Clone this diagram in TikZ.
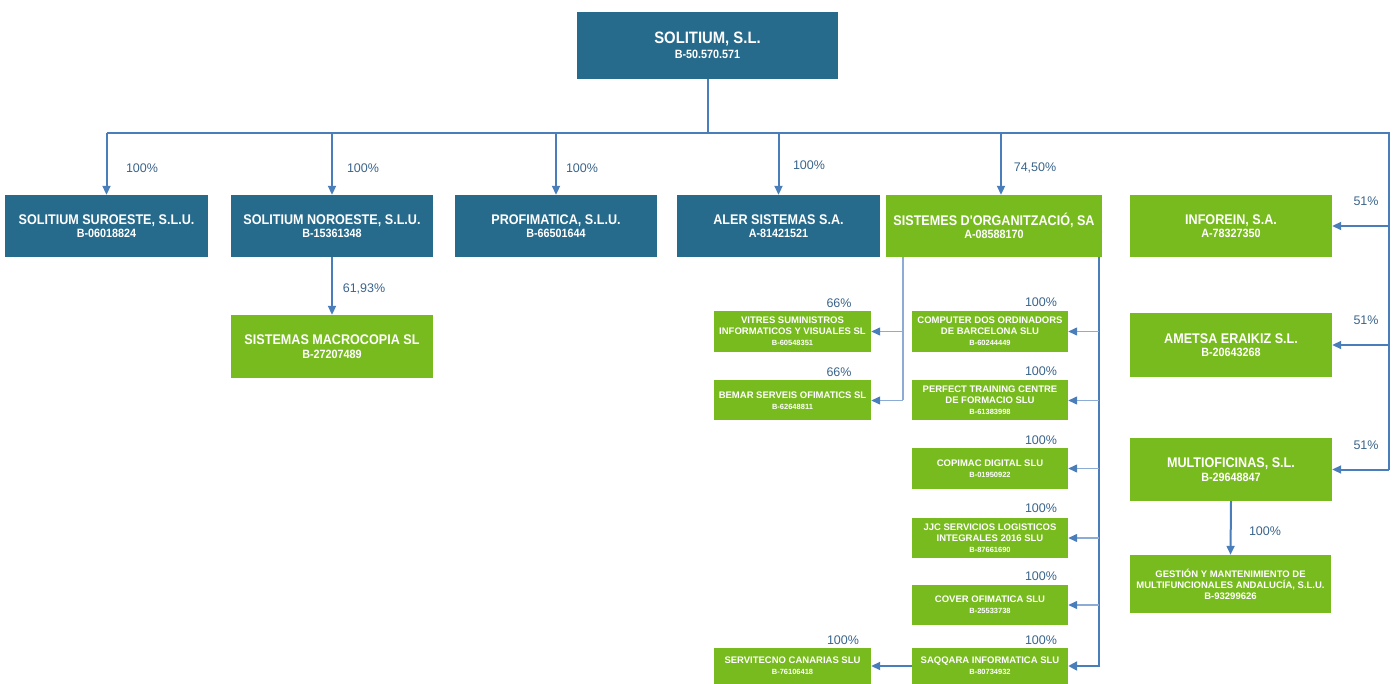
\documentclass[tikz,border=0pt]{standalone}
\usepackage{fontspec}
\setmainfont{Liberation Sans}
\newfontfamily\nbf{Liberation Sans}[FakeStretch=0.9]
\usetikzlibrary{arrows.meta}
\definecolor{dblue}{RGB}{38,106,140}
\definecolor{lgreen}{RGB}{120,187,30}
\definecolor{lnk}{RGB}{74,126,187}
\definecolor{lnkl}{RGB}{140,172,214}
\definecolor{pct}{RGB}{58,100,138}
\newcommand\mycd[1]{{\fontsize{12}{13.5}\selectfont #1}}
\newcommand\mysc[1]{{\fontsize{7.5}{9}\selectfont #1}}
\begin{document}
\begin{tikzpicture}[x=1pt,y=-1pt,
  bbox/.style={fill=dblue, text=white, inner sep=0pt, align=center, minimum width=202pt, minimum height=62pt,
    font=\nbf\bfseries\fontsize{14}{13.5}\selectfont},
  gbox/.style={bbox, fill=lgreen},
  sbox/.style={fill=lgreen, text=white, inner sep=0pt, align=center, minimum width=156pt, minimum height=40pt,
    font=\bfseries\fontsize{9.5}{11}\selectfont},
  pl/.style={text=pct, font=\fontsize{12.5}{14}\selectfont, inner sep=0pt},
  ln/.style={draw=lnk, line width=2pt},
  lnl/.style={draw=lnkl, line width=1.4pt},
  lnt/.style={draw=lnk, line width=2.8pt},
  arr/.style={draw=lnk, line width=2pt, -{Triangle[length=9pt,width=8pt]}},
  arrl/.style={draw=lnkl, line width=1.4pt, -{Triangle[length=9pt,width=8pt,color=lnk]}},
  arrt/.style={draw=lnk, line width=2.8pt, -{Triangle[length=9pt,width=9pt]}},
]
\useasboundingbox (0,0) rectangle (1395,684);

% main
\node[bbox, minimum width=261pt, minimum height=67pt, font=\nbf\bfseries\fontsize{16.5}{15}\selectfont] (main) at (707.5,45.5)
  {SOLITIUM, S.L.\\{\fontsize{12}{15}\selectfont B-50.570.571}};

% row 1
\node[bbox, minimum width=203pt] (sur) at (106.5,226) {SOLITIUM SUROESTE, S.L.U.\\\mycd{B-06018824}};
\node[bbox] (nor) at (332,226) {SOLITIUM NOROESTE, S.L.U.\\\mycd{B-15361348}};
\node[bbox] (prof) at (556,226) {PROFIMATICA, S.L.U.\\\mycd{B-66501644}};
\node[bbox, minimum width=203pt] (aler) at (778.5,226) {ALER SISTEMAS S.A.\\\mycd{A-81421521}};
\node[gbox, minimum width=216pt] (sis) at (994,226) {SISTEMES D'ORGANITZACIÓ, SA\\\mycd{A-08588170}};
\node[gbox] (inf) at (1231,226) {INFOREIN, S.A.\\\mycd{A-78327350}};

\node[gbox, minimum height=63pt] (macro) at (332,346.5) {SISTEMAS MACROCOPIA SL\\\mycd{B-27207489}};
\node[gbox, minimum height=64pt] (amet) at (1231,345) {AMETSA ERAIKIZ S.L.\\\mycd{B-20643268}};
\node[gbox, minimum height=63pt] (multi) at (1231,469.5) {MULTIOFICINAS, S.L.\\\mycd{B-29648847}};
\node[gbox, minimum width=201pt, minimum height=58pt, font=\bfseries\fontsize{9.5}{11}\selectfont] (gest) at (1230.5,584)
  {GESTIÓN Y MANTENIMIENTO DE\\MULTIFUNCIONALES ANDALUCÍA, S.L.U.\\B-93299626};

% small boxes
\node[sbox, minimum height=41pt] (comp) at (990,331.5) {COMPUTER DOS ORDINADORS\\DE BARCELONA SLU\\\mysc{B-60244449}};
\node[sbox, minimum height=40pt] (perf) at (990,400.5) {PERFECT TRAINING CENTRE\\DE FORMACIO SLU\\\mysc{B-61383998}};
\node[sbox, minimum height=41pt] (copi) at (990,468.5) {COPIMAC DIGITAL SLU\\\mysc{B-01950922}};
\node[sbox] (jjc) at (990,538) {JJC SERVICIOS LOGISTICOS\\INTEGRALES 2016 SLU\\\mysc{B-87661690}};
\node[sbox] (cover) at (990,605) {COVER OFIMATICA SLU\\\mysc{B-25533738}};
\node[sbox, minimum height=36pt] (saq) at (990,666) {SAQQARA INFORMATICA SLU\\\mysc{B-80734932}};
\node[sbox, minimum width=157pt, minimum height=41pt] (vit) at (792.5,331.5) {VITRES SUMINISTROS\\INFORMATICOS Y VISUALES SL\\\mysc{B-60548351}};
\node[sbox, minimum width=157pt] (bem) at (792.5,400.5) {BEMAR SERVEIS OFIMATICS SL\\\mysc{B-62648811}};
\node[sbox, minimum width=157pt, minimum height=36pt] (serv) at (792.5,666) {SERVITECNO CANARIAS SLU\\\mysc{B-76106418}};

% connectors from main
\coordinate (bus) at (707,133);
\coordinate (busR) at (1389,133);
\draw[ln] (main.south) -- (main.south |- bus);
\draw[ln] (sur.north |- bus) -- (busR) -- (busR |- multi.east);
\draw[arr] (sur.north |- bus) -- (sur.north);
\draw[arr] (nor.north |- bus) -- (nor.north);
\draw[arr] (prof.north |- bus) -- (prof.north);
\draw[arr] (aler.north |- bus) -- (aler.north);
\draw[arr] ([xshift=7pt]sis.north |- bus) -- ([xshift=7pt]sis.north);
\draw[arr] (busR |- inf.east) -- (inf.east);
\draw[arr] (busR |- amet.east) -- (amet.east);
\draw[arr] (busR |- multi.east) -- (multi.east);
\draw[arr] (nor.south) -- (macro.north);
\draw[arr] (multi.south) -- (gest.north);

% SISTEMES subtree
\coordinate (trR) at (1099,257);
\coordinate (trL) at (903,257);
\draw[lnt] (trR) -- (trR |- saq.east);
\draw[arrl] (trR |- comp.east) -- (comp.east);
\draw[arrl] (trR |- perf.east) -- (perf.east);
\draw[arrl] (trR |- copi.east) -- (copi.east);
\draw[arrl] (trR |- jjc.east) -- (jjc.east);
\draw[arrl] (trR |- cover.east) -- (cover.east);
\draw[arrt] ([xshift=1.4pt]trR |- saq.east) -- (saq.east);
\draw[lnl] (trL) -- (trL |- bem.east);
\draw[arrl] (trL |- vit.east) -- (vit.east);
\draw[arrl] (trL |- bem.east) -- (bem.east);
\draw[arr] (saq.west) -- (serv.east);

% labels
\node[pl] (l1) at (142,168) {100\%};
\node[pl] (l2) at (363,168) {100\%};
\node[pl] (l3) at (582,168) {100\%};
\node[pl] (l4) at (809,165) {100\%};
\node[pl] (l5) at (1035,168) {74,50\%};
\node[pl] (l6) at (1366,201) {51\%};
\node[pl] (l7) at (1366,320) {51\%};
\node[pl] (l8) at (1366,445) {51\%};
\node[pl] (l9) at (364,289) {61,93\%};
\node[pl] (l10) at (1265,531) {100\%};
\node[pl] (l11) at (839,303) {66\%};
\node[pl] (l12) at (839,372) {66\%};
\node[pl] (l13) at (1041,302) {100\%};
\node[pl] (l14) at (1041,371) {100\%};
\node[pl] (l15) at (1041,440) {100\%};
\node[pl] (l16) at (1041,508) {100\%};
\node[pl] (l17) at (1041,576) {100\%};
\node[pl] (l18) at (1041,640) {100\%};
\node[pl] (l19) at (843,640) {100\%};
\end{tikzpicture}
\end{document}
